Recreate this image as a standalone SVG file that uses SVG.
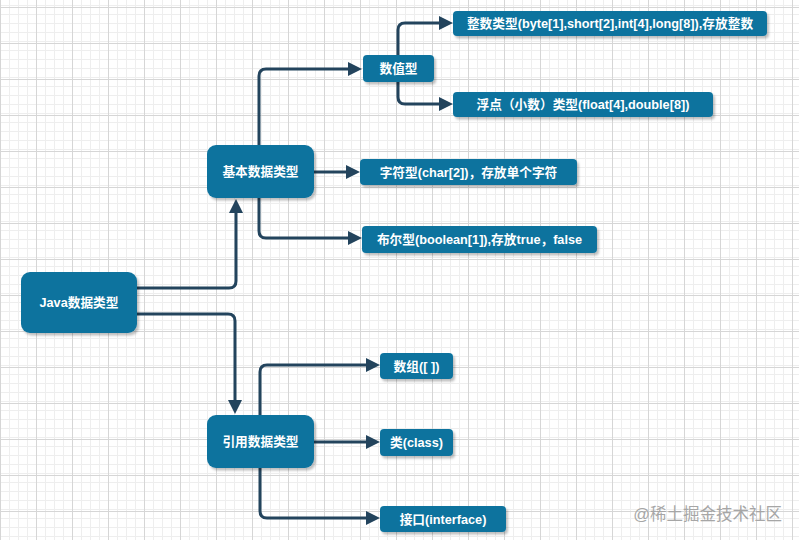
<svg xmlns="http://www.w3.org/2000/svg" width="799" height="540" viewBox="0 0 799 540">
<defs>
<pattern id="minor" patternUnits="userSpaceOnUse" x="0" y="7" width="9" height="9">
<path d="M0.5,0 V9 M0,0.5 H9" fill="none" stroke="#eeeeee" stroke-width="1"/>
</pattern>
<pattern id="major" patternUnits="userSpaceOnUse" x="0" y="7" width="36" height="36">
<rect width="36" height="36" fill="url(#minor)"/>
<path d="M0.5,0 V36 M0,0.5 H36" fill="none" stroke="#d6d6d6" stroke-width="1"/>
</pattern>
<marker id="arr" markerUnits="userSpaceOnUse" markerWidth="14" markerHeight="14" viewBox="0 0 14 14" refX="1" refY="7" orient="auto">
<path d="M0,0 L14,7 L0,14 z" fill="#23445D"/>
</marker>
<filter id="sh" x="-10%" y="-20%" width="130%" height="160%">
<feDropShadow dx="2" dy="2.5" stdDeviation="1" flood-color="#000" flood-opacity="0.25"/>
</filter>
</defs>
<style>
.node rect{fill:#10739E;filter:url(#sh);}
.node text{fill:#ffffff;font-family:"Liberation Sans","Noto Sans CJK SC",sans-serif;font-weight:bold;font-size:12.7px;text-anchor:middle;}
.edges path{fill:none;stroke:#23445D;stroke-width:3;marker-end:url(#arr);}
.wm{fill:#a6a6a6;font-family:"Liberation Sans","Noto Sans CJK SC",sans-serif;font-size:16.5px;text-anchor:end;}
</style>
<rect width="799" height="540" fill="#ffffff"/>
<rect width="799" height="540" fill="url(#major)"/>

<g id="edges" class="edges">
<path d="M137,288 H229 Q236,288 236,281 V212"/>
<path d="M137,314 H228 Q235,314 235,321 V401"/>
<path d="M259,145 V76 Q259,69 266,69 H349"/>
<path d="M314,172 H347"/>
<path d="M259,198 V231 Q259,238 266,238 H349"/>
<path d="M398,55 V30 Q398,23 405,23 H440"/>
<path d="M398,82 V97 Q398,104 405,104 H440"/>
<path d="M260,415 V372 Q260,365 267,365 H367"/>
<path d="M314,442 H367"/>
<path d="M260,468 V511 Q260,518 267,518 H367"/>
</g>

<g id="java" class="node">
<rect x="21" y="272" width="116" height="61" rx="9"/>
<text x="79" y="307">Java数据类型</text>
</g>
<g id="basic" class="node">
<rect x="207" y="145" width="107" height="53" rx="9"/>
<text x="260.5" y="176">基本数据类型</text>
</g>
<g id="ref" class="node">
<rect x="207" y="415" width="107" height="53" rx="9"/>
<text x="260.5" y="446">引用数据类型</text>
</g>
<g id="numeric" class="node">
<rect x="363" y="55" width="71" height="27" rx="4"/>
<text x="398.5" y="73">数值型</text>
</g>
<g id="integer" class="node">
<rect x="453" y="11" width="314" height="25" rx="4"/>
<text x="610" y="28">整数类型(byte[1],short[2],int[4],long[8]),存放整数</text>
</g>
<g id="float" class="node">
<rect x="453" y="92" width="260" height="25" rx="4"/>
<text x="583" y="109">浮点（小数）类型(float[4],double[8])</text>
</g>
<g id="char" class="node">
<rect x="360" y="159" width="217" height="26" rx="4"/>
<text x="468.5" y="176.5">字符型(char[2])，存放单个字符</text>
</g>
<g id="bool" class="node">
<rect x="362" y="226" width="235" height="27" rx="4"/>
<text x="479.5" y="244">布尔型(boolean[1]),存放true，false</text>
</g>
<g id="array" class="node">
<rect x="380" y="353" width="73" height="26" rx="4"/>
<text x="416.5" y="370.5">数组([ ])</text>
</g>
<g id="class" class="node">
<rect x="380" y="429" width="73" height="27" rx="4"/>
<text x="416.5" y="447">类(class)</text>
</g>
<g id="interface" class="node">
<rect x="380" y="506" width="126" height="26" rx="4"/>
<text x="443" y="523.5">接口(interface)</text>
</g>

<text class="wm" x="782" y="520">@稀土掘金技术社区</text>
</svg>
